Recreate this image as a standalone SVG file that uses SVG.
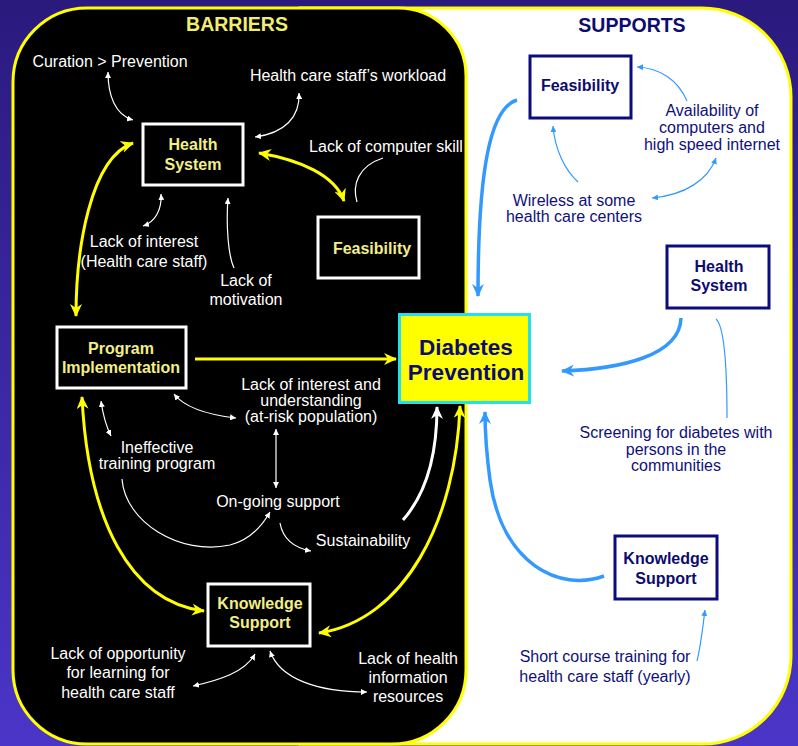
<svg xmlns="http://www.w3.org/2000/svg" width="798" height="746" viewBox="0 0 798 746">
<defs>
<linearGradient id="bg" x1="0" y1="0" x2="0" y2="1">
<stop offset="0" stop-color="#2a1a7e"/>
<stop offset="1" stop-color="#4a35c8"/>
</linearGradient>
<marker id="ay" markerUnits="userSpaceOnUse" markerWidth="14" markerHeight="12" refX="12" refY="6" orient="auto-start-reverse"><path d="M0,0 L13,6 L0,12 L4,6 Z" fill="#ffff00"/></marker>
<marker id="aw" markerUnits="userSpaceOnUse" markerWidth="14" markerHeight="12" refX="12" refY="6" orient="auto-start-reverse"><path d="M0,0 L13,6 L0,12 L4,6 Z" fill="#ffffff"/></marker>
<marker id="ab" markerUnits="userSpaceOnUse" markerWidth="14" markerHeight="12" refX="12" refY="6" orient="auto-start-reverse"><path d="M0,0 L13,6 L0,12 L4,6 Z" fill="#3399ff"/></marker>
<marker id="tw" markerUnits="userSpaceOnUse" markerWidth="7" markerHeight="6" refX="6" refY="3" orient="auto-start-reverse"><path d="M0,0 L6,3 L0,6 Z" fill="#ffffff"/></marker>
<marker id="tb" markerUnits="userSpaceOnUse" markerWidth="7" markerHeight="6" refX="6" refY="3" orient="auto-start-reverse"><path d="M0,0 L6,3 L0,6 Z" fill="#3399ff"/></marker>
</defs>
<style>
.t{font-family:"Liberation Sans",Arial,sans-serif;font-size:16px;text-anchor:middle}
.w{fill:#ffffff}
.n{fill:#10107a}
.nb{font-family:"Liberation Sans",Arial,sans-serif;font-size:16px;font-weight:bold;text-anchor:middle;fill:#f2ee88}
.sb{font-family:"Liberation Sans",Arial,sans-serif;font-size:16px;font-weight:bold;text-anchor:middle;fill:#0c0c6e}
.ttl{font-family:"Liberation Sans",Arial,sans-serif;font-size:19.5px;font-weight:bold;text-anchor:middle}
.dp{font-family:"Liberation Sans",Arial,sans-serif;font-size:22.5px;font-weight:bold;text-anchor:middle;fill:#0c0c6e}
.bn{fill:#000000;stroke:#ffffff;stroke-width:3}
.sn{fill:#ffffff;stroke:#0c0c7e;stroke-width:3}
.y{fill:none;stroke:#ffff00;stroke-width:3}
.wt{fill:none;stroke:#ffffff;stroke-width:3}
.bt{fill:none;stroke:#3399ff;stroke-width:3.5}
.tw{fill:none;stroke:#ffffff;stroke-width:1.2}
.tb{fill:none;stroke:#3399ff;stroke-width:1.2}
</style>
<rect x="0" y="0" width="798" height="746" fill="url(#bg)"/>
<g id="supports-panel">
<path d="M300,8 L702,8 A89,89 0 0 1 791,97 L791,656 A88,88 0 0 1 703,744 L300,744 Z" fill="#ffffff" stroke="#ffff00" stroke-width="3"/>
</g>
<g id="barriers-panel">
<path d="M87,8 L398,8 A68,68 0 0 1 466,76 L466,670 A74,74 0 0 1 392,744 L87,744 A74,74 0 0 1 13,670 L13,82 A74,74 0 0 1 87,8 Z" fill="#000000" stroke="#ffff00" stroke-width="3"/>
</g>
<text class="ttl" x="237" y="31" fill="#f0ee70">BARRIERS</text>
<text class="ttl" x="632" y="32" fill="#0c0c6e">SUPPORTS</text>

<g id="connectors">
<path class="y" d="M76,316 C 76,250 90,158 133,143" marker-start="url(#ay)" marker-end="url(#ay)"/>
<path class="y" d="M259,153 C 300,160 335,175 344,201" marker-start="url(#ay)" marker-end="url(#ay)"/>
<path class="y" d="M195,359 L396,359" marker-end="url(#ay)"/>
<path class="y" d="M82,397 C 88,520 130,602 204,611" marker-start="url(#ay)" marker-end="url(#ay)"/>
<path class="y" d="M460,406 C 456,520 405,620 319,633" marker-start="url(#ay)" marker-end="url(#ay)"/>
<path class="wt" d="M403,520 C 425,495 437,460 437,407" marker-end="url(#aw)"/>

<path class="tw" d="M108,72 C 108,95 115,115 133,120" marker-start="url(#tw)" marker-end="url(#tw)"/>
<path class="tw" d="M299,93 C 300,117 285,133 255,137" marker-start="url(#tw)" marker-end="url(#tw)"/>
<path class="tw" d="M383,158 C 358,166 352,185 357,202"/>
<path class="tw" d="M161,194 C 162,210 155,222 143,226" marker-start="url(#tw)" marker-end="url(#tw)"/>
<path class="tw" d="M228,198 C 226,225 228,255 234,268" marker-start="url(#tw)"/>
<path class="tw" d="M174,394 C 185,408 210,415 236,418" marker-start="url(#tw)" marker-end="url(#tw)"/>
<path class="tw" d="M101,401 C 103,415 106,426 111,436" marker-start="url(#tw)" marker-end="url(#tw)"/>
<path class="tw" d="M276,429 L276,488" marker-start="url(#tw)" marker-end="url(#tw)"/>
<path class="tw" d="M122,479 C 125,522 180,556 230,545 C 250,540 262,526 270,512" marker-end="url(#tw)"/>
<path class="tw" d="M280,523 C 283,540 295,548 311,551" marker-end="url(#tw)"/>
<path class="tw" d="M255,654 C 245,672 220,680 193,686" marker-start="url(#tw)" marker-end="url(#tw)"/>
<path class="tw" d="M270,651 C 280,680 320,692 367,692" marker-start="url(#tw)" marker-end="url(#tw)"/>

<path class="bt" d="M517,100 C 490,108 478,170 478,296" marker-end="url(#ab)"/>
<path class="bt" d="M681,318 C 680,356 620,369 562,371" marker-end="url(#ab)"/>
<path class="bt" d="M604,576 C 560,592 502,565 490,480 C 486,450 485,430 485,412" marker-end="url(#ab)"/>

<path class="tb" d="M687,101 C 678,80 660,68 637,67" marker-end="url(#tb)"/>
<path class="tb" d="M578,182 C 565,170 555,150 553,126" marker-end="url(#tb)"/>
<path class="tb" d="M652,198 C 685,195 708,180 716,158" marker-start="url(#tb)" marker-end="url(#tb)"/>
<path class="tb" d="M716,319 C 724,326 727,360 727,418"/>
<path class="tb" d="M697,661 C 701,645 703,625 705,610" marker-end="url(#tb)"/>
</g>

<g id="hs-barrier"><rect class="bn" x="143" y="124" width="100" height="61"/><text class="nb" x="193" y="150">Health</text><text class="nb" x="193" y="170">System</text></g>
<g id="feas-barrier"><rect class="bn" x="318" y="217" width="101" height="61"/><text class="nb" x="372" y="254">Feasibility</text></g>
<g id="prog-impl"><rect class="bn" x="57" y="327" width="129" height="61"/><text class="nb" x="121" y="354">Program</text><text class="nb" x="121" y="373">Implementation</text></g>
<g id="ks-barrier"><rect class="bn" x="208" y="584" width="102" height="62"/><text class="nb" x="260" y="609">Knowledge</text><text class="nb" x="260" y="628">Support</text></g>
<g id="diabetes"><rect x="399.5" y="314.5" width="130" height="88" fill="#ffff00" stroke="#22e0f0" stroke-width="3"/><text class="dp" x="466" y="355">Diabetes</text><text class="dp" x="466" y="380">Prevention</text></g>
<g id="feas-support"><rect class="sn" x="530" y="56" width="101" height="62"/><text class="sb" x="580" y="91">Feasibility</text></g>
<g id="hs-support"><rect class="sn" x="667" y="246" width="102" height="62"/><text class="sb" x="719" y="272">Health</text><text class="sb" x="719" y="291">System</text></g>
<g id="ks-support"><rect class="sn" x="615" y="536" width="102" height="63"/><text class="sb" x="666" y="564">Knowledge</text><text class="sb" x="666" y="584">Support</text></g>

<g id="barrier-labels" class="t w">
<text x="110" y="67">Curation &gt; Prevention</text>
<text x="348" y="81">Health care staff’s workload</text>
<text x="386" y="152">Lack of computer skill</text>
<text x="144" y="247">Lack of interest</text>
<text x="144" y="267">(Health care staff)</text>
<text x="246" y="286">Lack of</text>
<text x="246" y="305">motivation</text>
<text x="311" y="390">Lack of interest and</text>
<text x="311" y="406">understanding</text>
<text x="311" y="422">(at-risk population)</text>
<text x="157" y="453">Ineffective</text>
<text x="157" y="469">training program</text>
<text x="278" y="507">On-going support</text>
<text x="363" y="546">Sustainability</text>
<text x="118" y="659">Lack of opportunity</text>
<text x="118" y="678">for learning for</text>
<text x="118" y="698">health care staff</text>
<text x="408" y="664">Lack of health</text>
<text x="408" y="683">information</text>
<text x="408" y="702">resources</text>
</g>
<g id="support-labels" class="t n">
<text x="712" y="116">Availability of</text>
<text x="712" y="133">computers and</text>
<text x="712" y="150">high speed internet</text>
<text x="574" y="206">Wireless at some</text>
<text x="574" y="222">health care centers</text>
<text x="676" y="438">Screening for diabetes with</text>
<text x="676" y="455">persons in the</text>
<text x="676" y="471">communities</text>
<text x="605" y="662">Short course training for</text>
<text x="605" y="682">health care staff (yearly)</text>
</g>
</svg>
